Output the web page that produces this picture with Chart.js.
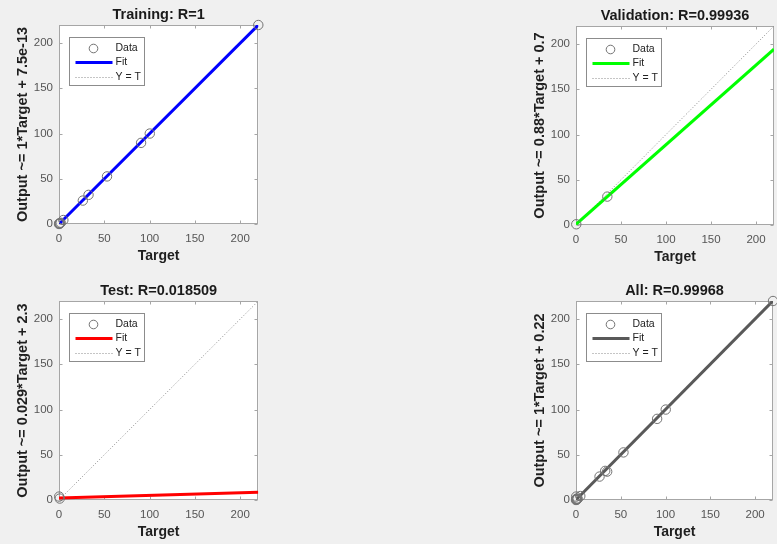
<!DOCTYPE html>
<html>
<head>
<meta charset="utf-8">
<script src="https://cdn.jsdelivr.net/npm/chart.js@4.4.1/dist/chart.umd.min.js"></script>
<style>
  html, body { margin: 0; padding: 0; background: #f0f0f0; }
  body { width: 777px; height: 544px; position: relative; overflow: hidden; }
  .panel { position: absolute; width: 264px; height: 268px; }
</style>
</head>
<body>
<div class="panel" style="left:0px;top:0px"><canvas id="cTrain" width="264" height="268"></canvas></div>
<div class="panel" style="left:517px;top:1px"><canvas id="cVal" width="264" height="268"></canvas></div>
<div class="panel" style="left:0px;top:276px"><canvas id="cTest" width="264" height="268"></canvas></div>
<div class="panel" style="left:517px;top:276px"><canvas id="cAll" width="264" height="268"></canvas></div>
<script>
// values
const tickValues = [0, 50, 100, 150, 200];

const trainTarget = [0, 0.3, 0.6, 1.2, 1.9, 4.8, 26.3, 32.6, 53.0, 90.6, 100.2, 220];
const trainOutput = [0, 0.2, 0.9, 0.7, 1.4, 4.4, 25.9, 32.2, 52.6, 89.7, 100.0, 220];
const valTarget = [0.3, 34.8];
const valOutput = [0.8, 31.4];
const testTarget = [0.2, 0.8];
const testOutput = [3.8, 1.6];

// fit lines: output at target = 0 and target = 220
const lineTarget = [0, 220];
const trainFit = [0, 220];
const valFit = [0.7, 194.3];
const testFit = [2.3, 8.7];
const allFit = [0.22, 220.2];
const identity = [0, 220];

const titles = ['Training: R=1', 'Validation: R=0.99936', 'Test: R=0.018509', 'All: R=0.99968'];
const yLabels = ['Output ~= 1*Target + 7.5e-13', 'Output ~= 0.88*Target + 0.7',
                 'Output ~= 0.029*Target + 2.3', 'Output ~= 1*Target + 0.22'];

const FONT = '"Liberation Sans", Arial, Helvetica, sans-serif';

function pts(xs, ys) {
  return xs.map((x, i) => ({ x: x, y: ys[i] }));
}

// white axes background, box with inward ticks, legend inside the axes
const matlabAxes = {
  id: 'matlabAxes',
  beforeDraw(chart) {
    const a = chart.chartArea, c = chart.ctx;
    c.save();
    c.fillStyle = '#ffffff';
    c.fillRect(a.left, a.top, a.right - a.left, a.bottom - a.top);
    c.restore();
  },
  beforeDatasetsDraw(chart) {
    const a = chart.chartArea, c = chart.ctx;
    const L = Math.round(a.left) + 0.5, R = Math.round(a.right) - 0.5;
    const T = Math.round(a.top) + 0.5, B = Math.round(a.bottom) - 0.5;
    c.save();
    c.strokeStyle = '#a6a6a6';
    c.lineWidth = 1;
    c.strokeRect(L, T, R - L, B - T);
    c.beginPath();
    tickValues.forEach(v => {
      const px = Math.round(chart.scales.x.getPixelForValue(v)) + 0.5;
      const py = Math.round(chart.scales.y.getPixelForValue(v)) + 0.5;
      c.moveTo(px, B); c.lineTo(px, B - 3);
      c.moveTo(px, T); c.lineTo(px, T + 3);
      c.moveTo(L, py); c.lineTo(L + 3, py);
      c.moveTo(R, py); c.lineTo(R - 3, py);
    });
    c.stroke();
    c.restore();
  },
  afterDraw(chart) {
    const a = chart.chartArea, c = chart.ctx;
    const ds = chart.data.datasets;
    const lx = Math.round(a.left) + 10.5, ly = Math.round(a.top) + 12.5;
    const lw = 75, lh = 48;
    c.save();
    c.fillStyle = '#ffffff';
    c.fillRect(lx, ly, lw, lh);
    c.strokeStyle = '#8c8c8c';
    c.lineWidth = 1;
    c.strokeRect(lx, ly, lw, lh);
    const rows = [ly + 11, ly + 25, ly + 40];
    // Data marker
    c.beginPath();
    c.strokeStyle = ds[0].borderColor;
    c.arc(lx + 24, rows[0], 4.3, 0, Math.PI * 2);
    c.stroke();
    // Fit line
    c.beginPath();
    c.strokeStyle = ds[1].borderColor;
    c.lineWidth = 3;
    c.moveTo(lx + 6, rows[1]); c.lineTo(lx + 43, rows[1]);
    c.stroke();
    // Y = T line
    c.beginPath();
    c.strokeStyle = ds[2].borderColor;
    c.lineWidth = 1;
    c.setLineDash([1, 2]);
    c.moveTo(lx + 6, rows[2]); c.lineTo(lx + 43, rows[2]);
    c.stroke();
    c.setLineDash([]);
    c.fillStyle = '#222222';
    c.font = '10.5px ' + FONT;
    c.textBaseline = 'middle';
    c.fillText(ds[0].label, lx + 46, rows[0]);
    c.fillText(ds[1].label, lx + 46, rows[1]);
    c.fillText(ds[2].label, lx + 46, rows[2]);
    c.restore();
  }
};

function makeChart(id, title, ylabel, dataPts, fit, fitColor, padRight) {
  const ctx = document.getElementById(id).getContext('2d');
  return new Chart(ctx, {
    type: 'scatter',
    data: {
      datasets: [{
        label: 'Data',
        data: dataPts,
        showLine: false,
        pointStyle: 'circle',
        pointRadius: 4.7,
        borderColor: '#737373',
        backgroundColor: 'rgba(0,0,0,0)',
        borderWidth: 1,
        clip: false,
        order: 0
      }, {
        label: 'Fit',
        data: pts(lineTarget, fit),
        showLine: true,
        pointRadius: 0,
        borderColor: fitColor,
        borderWidth: 3,
        order: 1
      }, {
        label: 'Y = T',
        data: pts(lineTarget, identity),
        showLine: true,
        pointRadius: 0,
        borderColor: '#8a8a8a',
        borderWidth: 1,
        borderDash: [1, 2],
        order: 2
      }]
    },
    options: {
      responsive: false,
      animation: false,
      events: [],
      layout: { padding: { left: 0, right: padRight, top: 0, bottom: 0 } },
      plugins: {
        legend: { display: false },
        tooltip: { enabled: false },
        title: {
          display: true,
          text: title,
          fullSize: false,
          color: '#1a1a1a',
          font: { family: FONT, size: 14.5, weight: 'bold', lineHeight: 1.2 },
          padding: { top: 6, bottom: 1.6 }
        }
      },
      scales: {
        x: {
          type: 'linear',
          min: 0,
          max: 220,
          afterBuildTicks: s => { s.ticks = tickValues.map(v => ({ value: v })); },
          afterFit: s => { s.height = 44; s.paddingLeft = 0; s.paddingRight = 0; },
          grid: { drawOnChartArea: false, drawTicks: false },
          border: { display: false },
          ticks: { autoSkip: false, maxRotation: 0, padding: 8, color: '#555555',
                   font: { family: FONT, size: 11.5 } },
          title: { display: true, text: 'Target', color: '#1f1f1f',
                   font: { family: FONT, size: 14, weight: 'bold', lineHeight: 1.2 },
                   padding: { top: 0, bottom: 3.6 } }
        },
        y: {
          type: 'linear',
          min: 0,
          max: 220,
          afterBuildTicks: s => { s.ticks = tickValues.map(v => ({ value: v })); },
          afterFit: s => { s.width = 59; s.paddingTop = 0; s.paddingBottom = 0; },
          grid: { drawOnChartArea: false, drawTicks: false },
          border: { display: false },
          ticks: { autoSkip: false, padding: 6, color: '#555555',
                   font: { family: FONT, size: 11.5 } },
          title: { display: true, text: ylabel, color: '#1f1f1f',
                   font: { family: FONT, size: 14.5, weight: 'bold', lineHeight: 1.2 },
                   padding: { top: 14.5, bottom: 0 } }
        }
      }
    },
    plugins: [matlabAxes]
  });
}

const allTarget = trainTarget.concat(valTarget, testTarget);
const allOutput = trainOutput.concat(valOutput, testOutput);

makeChart('cTrain', titles[0], yLabels[0], pts(trainTarget, trainOutput), trainFit, '#0000ff', 2);
makeChart('cVal', titles[1], yLabels[1], pts(valTarget, valOutput), valFit, '#00ff00', 7);
makeChart('cTest', titles[2], yLabels[2], pts(testTarget, testOutput), testFit, '#ff0000', 2);
makeChart('cAll', titles[3], yLabels[3], pts(allTarget, allOutput), allFit, '#595959', 8);
</script>
</body>
</html>
